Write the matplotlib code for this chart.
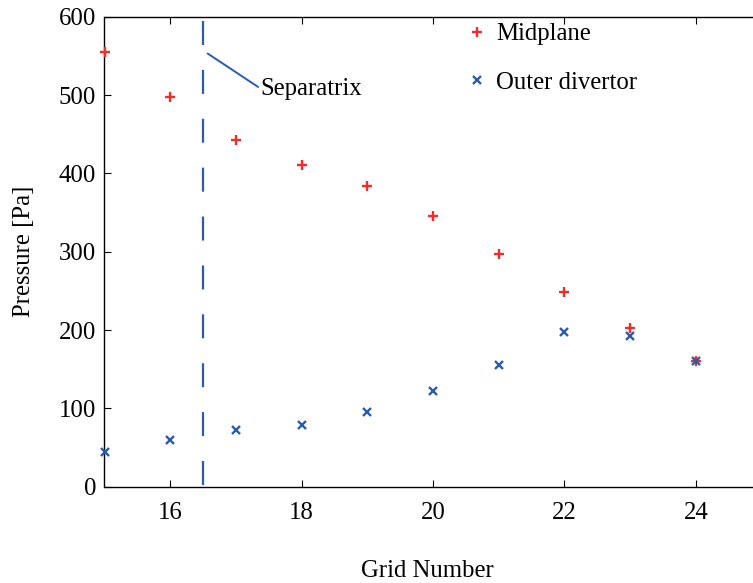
import numpy as np
import matplotlib.pyplot as plt

plt.rcParams["font.family"] = ["Liberation Serif", "DejaVu Serif"]
plt.rcParams["font.size"] = 17.8

grid = [15, 16, 17, 18, 19, 20, 21, 22, 23, 24]
p_midplane = [555, 497, 442, 411, 384, 345, 297, 248, 202, 160]
p_divertor = [44, 60, 73, 79, 95, 122, 155, 197, 192, 160]
separatrix_x = 16.5

red = "#f22b2b"
blue = "#2a5caa"

fig = plt.figure(figsize=(7.53, 5.83), dpi=100)
# axes runs a bit past the right edge of the figure (x limit 25)
ax = fig.add_axes([104.5 / 753, (583 - 486.7) / 583, 657 / 753, 470 / 583])

ax.plot(grid, p_midplane, linestyle="none", marker="+", markersize=6.5,
        markeredgewidth=1.7, color=red, label="Midplane", clip_on=False, zorder=3)
ax.plot(grid, p_divertor, linestyle="none", marker="x", markersize=5.5,
        markeredgewidth=1.7, color=blue, label="Outer divertor", clip_on=False, zorder=3)

# separatrix marker line
ax.plot([separatrix_x, separatrix_x], [594, 0], color=blue, linewidth=1.6,
        linestyle=(0, (10.8, 11.2)))
ax.annotate("Separatrix", xy=(16.57, 553), xytext=(17.38, 508),
            va="center", ha="left",
            arrowprops=dict(arrowstyle="-", color=blue, linewidth=1.4,
                            shrinkA=0, shrinkB=0, relpos=(0, 0.5)))

ax.set_xlim(15, 25)
ax.set_ylim(0, 600)
ax.set_xticks(np.arange(16, 25, 2))
ax.set_yticks(np.arange(0, 601, 100))
ax.tick_params(direction="in", length=5, width=0.8, top=True, right=True, pad=11)
ax.tick_params(axis="y", pad=6)
for s in ax.spines.values():
    s.set_linewidth(1.0)

ax.set_xlabel("Grid Number", labelpad=25.5)
ax.xaxis.set_label_coords(0.4916, -0.155)
ax.set_ylabel("Pressure [Pa]", labelpad=17)

ax.legend(loc="upper left", bbox_to_anchor=(465 / 753, 1 - 23 / 583),
          bbox_transform=fig.transFigure, frameon=False, numpoints=1,
          handlelength=1.0, handletextpad=0.25, labelspacing=1.07,
          borderpad=0, borderaxespad=0)

fig.savefig("out.png", dpi=100)
